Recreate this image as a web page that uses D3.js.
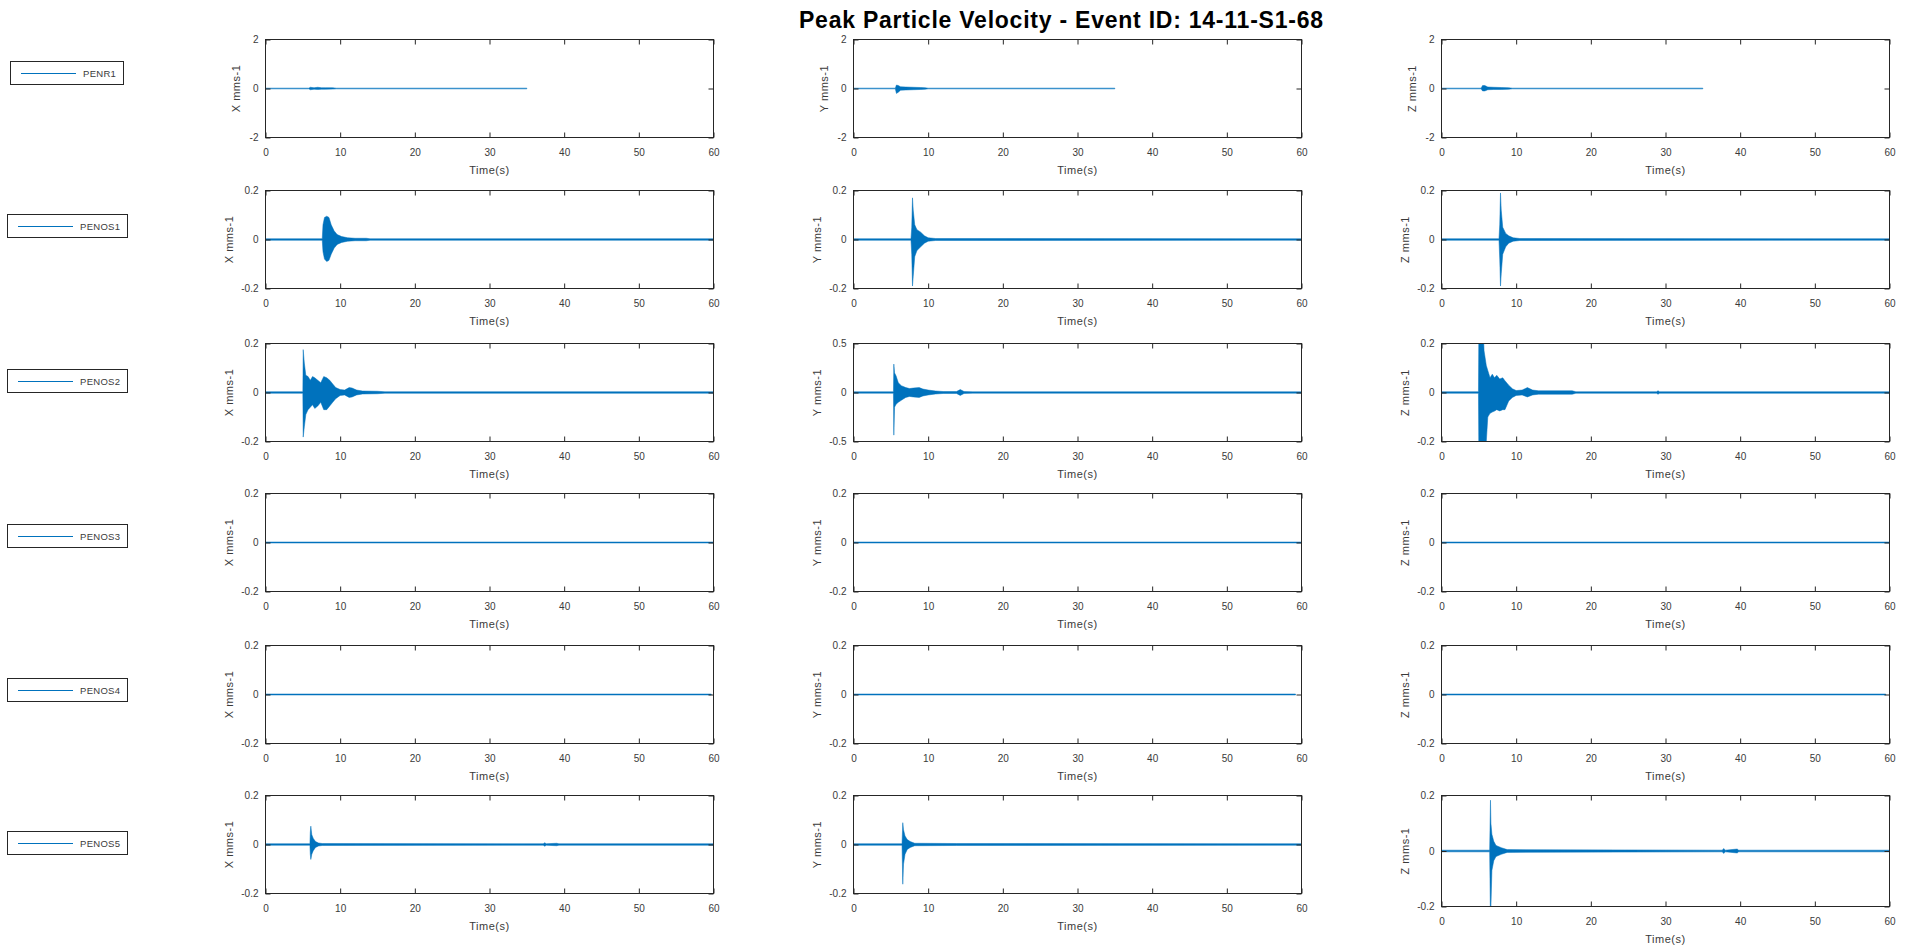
<!DOCTYPE html>
<html><head><meta charset="utf-8">
<script src="https://cdn.jsdelivr.net/npm/d3@7"></script>
<style>
body{margin:0;background:#fff}
svg{display:block}
text{font-family:"Liberation Sans",Arial,Helvetica,sans-serif}
</style>
</head><body>
<svg id="chart" width="1910" height="949"></svg>
<script>
// ---------------- DATA ----------------
const chartTitle = "Peak Particle Velocity - Event ID: 14-11-S1-68";
const stations = ["PENR1", "PENOS1", "PENOS2", "PENOS3", "PENOS4", "PENOS5"];
const components = ["X", "Y", "Z"];
const xTickValues = [0, 10, 20, 30, 40, 50, 60];
const xLabel = "Time(s)";
const yUnit = "mms-1";
// symmetric y-limits per station row, per component column
const yLimits = [
  [2, 2, 2],
  [0.2, 0.2, 0.2],
  [0.2, 0.5, 0.2],
  [0.2, 0.2, 0.2],
  [0.2, 0.2, 0.2],
  [0.2, 0.2, 0.2]
];

// Trace envelopes: [time (s), upper (mm/s), lower (mm/s)]
const PENR1_X = [[0,0.015,-0.015],[5.8,0.015,-0.015],[6.0,0.05,-0.05],[6.5,0.03,-0.03],[7.0,0.05,-0.04],[7.5,0.03,-0.03],[8.0,0.03,-0.03],[9.0,0.03,-0.025],[9.5,0.015,-0.015],[35,0.015,-0.015]];
const PENR1_Y = [[0,0.015,-0.015],[5.6,0.015,-0.015],[5.75,0.14,-0.2],[6.0,0.12,-0.15],[6.3,0.07,-0.07],[7.0,0.06,-0.06],[8.0,0.05,-0.05],[9.0,0.04,-0.04],[9.6,0.03,-0.03],[10,0.015,-0.015],[35,0.015,-0.015]];
const PENR1_Z = [[0,0.015,-0.015],[5.3,0.015,-0.015],[5.5,0.12,-0.1],[5.8,0.12,-0.1],[6.2,0.06,-0.05],[7.0,0.05,-0.04],[8.0,0.04,-0.04],[9.0,0.03,-0.03],[9.5,0.015,-0.015],[35,0.015,-0.015]];

const PENOS1_X = [[0,0.003,-0.003],[7.6,0.003,-0.003],[7.7,0.06,-0.05],[7.9,0.09,-0.08],[8.2,0.095,-0.09],[8.5,0.09,-0.085],[8.8,0.06,-0.06],[9.2,0.035,-0.035],[9.6,0.02,-0.02],[10.2,0.012,-0.012],[11,0.007,-0.007],[12,0.005,-0.005],[13.5,0.005,-0.005],[14,0.003,-0.003],[60,0.003,-0.003]];
const PENOS1_Y = [[0,0.003,-0.003],[7.7,0.003,-0.003],[7.8,0.05,-0.06],[7.9,0.17,-0.19],[8.0,0.12,-0.15],[8.2,0.06,-0.07],[8.5,0.04,-0.045],[9.0,0.03,-0.03],[9.5,0.015,-0.015],[10,0.007,-0.007],[11,0.004,-0.004],[60,0.003,-0.003]];
const PENOS1_Z = [[0,0.003,-0.003],[7.7,0.003,-0.003],[7.8,0.06,-0.08],[7.9,0.19,-0.19],[8.0,0.12,-0.14],[8.2,0.05,-0.06],[8.6,0.025,-0.03],[9.0,0.015,-0.015],[9.6,0.007,-0.007],[10.5,0.004,-0.004],[60,0.003,-0.003]];

const PENOS2_X = [[0,0.003,-0.003],[5.0,0.003,-0.003],[5.05,0.175,-0.182],[5.2,0.12,-0.14],[5.4,0.07,-0.09],[5.7,0.065,-0.07],[6.0,0.05,-0.06],[6.3,0.065,-0.05],[6.6,0.06,-0.065],[7.0,0.05,-0.055],[7.4,0.04,-0.04],[7.8,0.065,-0.07],[8.2,0.06,-0.07],[8.6,0.05,-0.055],[9.0,0.035,-0.04],[9.4,0.02,-0.025],[10,0.012,-0.012],[10.6,0.01,-0.01],[11.2,0.02,-0.02],[11.6,0.018,-0.018],[12.2,0.01,-0.01],[13,0.006,-0.006],[15,0.005,-0.005],[16,0.003,-0.003],[60,0.003,-0.003]];
const PENOS2_Y = [[0,0.007,-0.007],[5.35,0.007,-0.007],[5.4,0.29,-0.435],[5.5,0.2,-0.15],[5.7,0.17,-0.12],[6.0,0.1,-0.1],[6.4,0.07,-0.08],[7.0,0.05,-0.05],[7.5,0.04,-0.04],[8.0,0.045,-0.045],[8.8,0.05,-0.05],[9.3,0.035,-0.035],[10,0.025,-0.025],[11,0.015,-0.015],[12,0.01,-0.01],[13.8,0.01,-0.01],[14.3,0.03,-0.03],[14.8,0.01,-0.01],[16,0.007,-0.007],[60,0.007,-0.007]];
const PENOS2_Z = [[0,0.003,-0.003],[4.95,0.003,-0.003],[5.0,0.25,-0.25],[5.6,0.25,-0.25],[5.7,0.17,-0.22],[6.0,0.11,-0.2],[6.2,0.09,-0.1],[6.5,0.06,-0.085],[6.8,0.075,-0.08],[7.1,0.06,-0.076],[7.4,0.07,-0.07],[7.8,0.055,-0.075],[8.2,0.06,-0.07],[8.5,0.048,-0.07],[9.0,0.03,-0.035],[9.5,0.015,-0.02],[10,0.008,-0.012],[10.8,0.01,-0.01],[11.5,0.02,-0.018],[12.2,0.01,-0.01],[13,0.007,-0.007],[17.5,0.007,-0.007],[18,0.003,-0.003],[28.8,0.003,-0.003],[29,0.007,-0.007],[29.2,0.003,-0.003],[60,0.003,-0.003]];

const PENOS3_X = [[0,0.002,-0.002],[60,0.002,-0.002]];
const PENOS3_Y = [[0,0.002,-0.002],[60,0.002,-0.002]];
const PENOS3_Z = [[0,0.002,-0.002],[60,0.002,-0.002]];

const PENOS4_X = [[0,0.002,-0.002],[59.7,0.002,-0.002]];
const PENOS4_Y = [[0,0.002,-0.002],[59.2,0.002,-0.002]];
const PENOS4_Z = [[0,0.002,-0.002],[59.5,0.002,-0.002]];

const PENOS5_X = [[0,0.003,-0.003],[5.95,0.003,-0.003],[6.0,0.05,-0.04],[6.07,0.075,-0.061],[6.2,0.04,-0.04],[6.4,0.025,-0.025],[6.7,0.012,-0.012],[7.1,0.006,-0.006],[7.6,0.004,-0.004],[37.2,0.003,-0.003],[37.4,0.007,-0.007],[37.6,0.003,-0.003],[39,0.005,-0.005],[39.3,0.003,-0.003],[60,0.003,-0.003]];
const PENOS5_Y = [[0,0.003,-0.003],[6.5,0.003,-0.003],[6.6,0.089,-0.162],[6.7,0.06,-0.08],[6.9,0.035,-0.04],[7.2,0.02,-0.02],[7.6,0.012,-0.012],[8.2,0.005,-0.005],[13.8,0.004,-0.004],[60,0.003,-0.003]];
const PENOS5_Z = [[0,0.003,-0.003],[6.45,0.003,-0.003],[6.56,0.183,-0.25],[6.62,0.1,-0.2],[6.75,0.06,-0.07],[7.0,0.035,-0.035],[7.3,0.02,-0.02],[8.0,0.012,-0.012],[8.8,0.005,-0.005],[37.6,0.003,-0.003],[37.8,0.009,-0.009],[38,0.003,-0.003],[39.6,0.007,-0.007],[39.8,0.003,-0.003],[60,0.003,-0.003]];

const traces = [
  [PENR1_X, PENR1_Y, PENR1_Z],
  [PENOS1_X, PENOS1_Y, PENOS1_Z],
  [PENOS2_X, PENOS2_Y, PENOS2_Z],
  [PENOS3_X, PENOS3_Y, PENOS3_Z],
  [PENOS4_X, PENOS4_Y, PENOS4_Z],
  [PENOS5_X, PENOS5_Y, PENOS5_Z]
];

// ---------------- LAYOUT ----------------
const colLeft = [265, 853, 1441];
const plotW = 448;
const rowTop = [39, 190, 343, 493, 645, 795];
const plotH = 98;
const legendCY = [73, 226, 381, 536, 690, 843];
const lineColor = "#0072BD";
const axisColor = "#262626";
const textColor = "#3a3a3a";

const svg = d3.select("#chart");

svg.append("text")
  .attr("x", 1061).attr("y", 28)
  .attr("text-anchor", "middle")
  .attr("font-size", 23).attr("font-weight", "bold")
  .attr("fill", "#000")
  .attr("textLength", 524).attr("lengthAdjust", "spacing")
  .text(chartTitle);

const defs = svg.append("defs");

stations.forEach((st, r) => {
  components.forEach((comp, c) => {
    const x0 = colLeft[c];
    const y0 = rowTop[r];
    const h = (r === 5 && c === 2) ? 111 : plotH;
    const lim = yLimits[r][c];
    const x = d3.scaleLinear().domain([0, 60]).range([0, plotW]);
    const y = d3.scaleLinear().domain([-lim, lim]).range([h, 0]);
    const g = svg.append("g").attr("transform", `translate(${x0 + 0.5},${y0 + 0.5})`);

    const cid = `clip-${r}-${c}`;
    defs.append("clipPath").attr("id", cid)
      .append("rect").attr("x", 0).attr("y", 0).attr("width", plotW).attr("height", h);

    const area = d3.area()
      .x(d => x(d[0]))
      .y0(d => y(d[2]))
      .y1(d => y(d[1]));
    g.append("path")
      .datum(traces[r][c])
      .attr("clip-path", `url(#${cid})`)
      .attr("d", area)
      .attr("fill", lineColor)
      .attr("stroke", lineColor)
      .attr("stroke-width", 0.5)
      .attr("stroke-linejoin", "round");

    const yTicks = [-lim, 0, lim];
    const fmt = d => (d === 0 ? "0" : String(d));

    const bottom = g.append("g").attr("transform", `translate(0,${h})`)
      .call(d3.axisBottom(x).tickValues(xTickValues).tickSizeInner(-5).tickSizeOuter(0).tickPadding(11).tickFormat(d => String(d)));
    const top = g.append("g")
      .call(d3.axisTop(x).tickValues(xTickValues).tickSizeInner(-5).tickSizeOuter(0).tickFormat(""));
    const left = g.append("g")
      .call(d3.axisLeft(y).tickValues(yTicks).tickSizeInner(-5).tickSizeOuter(0).tickPadding(7).tickFormat(fmt));
    const right = g.append("g").attr("transform", `translate(${plotW},0)`)
      .call(d3.axisRight(y).tickValues(yTicks).tickSizeInner(-5).tickSizeOuter(0).tickFormat(""));
    [bottom, top, left, right].forEach(a => {
      a.select(".domain").remove();
      a.selectAll("line").attr("stroke", axisColor);
      a.selectAll("text").attr("fill", textColor).attr("font-size", 10)
        .attr("font-family", '"Liberation Sans",Arial,Helvetica,sans-serif');
    });

    g.append("rect")
      .attr("x", 0).attr("y", 0).attr("width", plotW).attr("height", h)
      .attr("fill", "none").attr("stroke", axisColor).attr("stroke-width", 1);

    g.append("text")
      .attr("x", plotW / 2).attr("y", h + 36.5)
      .attr("text-anchor", "middle")
      .attr("font-size", 11).attr("letter-spacing", 0.5)
      .attr("fill", textColor)
      .text(xLabel);

    const lx = lim >= 1 ? -30 : -37;
    g.append("text")
      .attr("transform", `translate(${lx},${h / 2}) rotate(-90)`)
      .attr("text-anchor", "middle")
      .attr("dominant-baseline", "central")
      .attr("font-size", 11).attr("letter-spacing", 0.5)
      .attr("fill", textColor)
      .text(`${comp} ${yUnit}`);
  });

  // legend
  const cy = legendCY[r];
  const lg = svg.append("g");
  const txt = lg.append("text")
    .attr("font-size", 9.5)
    .attr("letter-spacing", 0.3)
    .attr("fill", textColor)
    .attr("dominant-baseline", "central")
    .text(st);
  const tw = txt.node().getComputedTextLength();
  const bw = Math.round(73 + tw + 7);
  const bl = Math.round(66.5 - bw / 2);
  txt.attr("x", bl + 73).attr("y", cy);
  lg.insert("rect", "text")
    .attr("x", bl + 0.5).attr("y", cy - 11.5).attr("width", bw).attr("height", 23)
    .attr("fill", "#fff").attr("stroke", axisColor).attr("stroke-width", 1);
  lg.append("line")
    .attr("x1", bl + 11).attr("x2", bl + 66).attr("y1", cy + 0.5).attr("y2", cy + 0.5)
    .attr("stroke", lineColor).attr("stroke-width", 1.2);
});
</script>
</body></html>
